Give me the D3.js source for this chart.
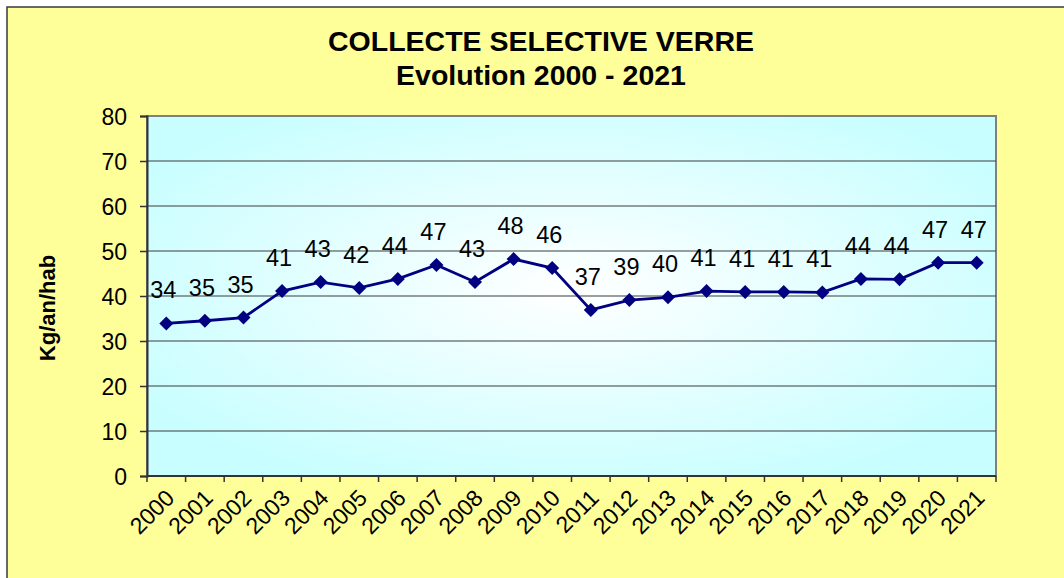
<!DOCTYPE html>
<html>
<head>
<meta charset="utf-8">
<script src="https://cdn.jsdelivr.net/npm/d3@7"></script>
<style>
  html, body { margin: 0; padding: 0; background: #fff; }
  svg { display: block; font-family: "Liberation Sans", Arial, sans-serif; }
</style>
</head>
<body>
<div id="chart"></div>
<script>
// data
var years = ["2000","2001","2002","2003","2004","2005","2006","2007","2008","2009","2010",
             "2011","2012","2013","2014","2015","2016","2017","2018","2019","2020","2021"];
var values = [33.9, 34.5, 35.2, 41.1, 43.1, 41.8, 43.8, 46.9, 43.1, 48.2, 46.2,
              36.9, 39.1, 39.7, 41.1, 40.9, 40.9, 40.8, 43.8, 43.7, 47.4, 47.4];
var yTicks = [0, 10, 20, 30, 40, 50, 60, 70, 80];
var titleLines = ["COLLECTE SELECTIVE VERRE", "Evolution 2000 - 2021"];
var yTitle = "Kg/an/hab";

var W = 1064, H = 578;
var plot = {left: 147, top: 116, right: 996, bottom: 476};

var svg = d3.select("#chart").append("svg")
    .attr("width", W)
    .attr("height", H);

// outer chart area (yellow)
svg.append("rect")
    .attr("x", 7).attr("y", 7)
    .attr("width", W).attr("height", H)
    .attr("fill", "#FFFF99")
    .attr("stroke", "#3a3a3a")
    .attr("stroke-width", 1.5);

// plot area gradient, white in the middle going cyan to the edges
var defs = svg.append("defs");
var grad = defs.append("radialGradient")
    .attr("id", "plotGrad")
    .attr("cx", "50%").attr("cy", "48%").attr("r", "60%");
grad.append("stop").attr("offset", "0%").attr("stop-color", "#FFFFFF");
grad.append("stop").attr("offset", "100%").attr("stop-color", "#C8FEFF");

svg.append("rect")
    .attr("x", plot.left).attr("y", plot.top)
    .attr("width", plot.right - plot.left)
    .attr("height", plot.bottom - plot.top)
    .attr("fill", "url(#plotGrad)")
    .attr("stroke", "#808080")
    .attr("stroke-width", 2);

var x = d3.scaleBand()
    .domain(years)
    .range([plot.left, plot.right]);

var y = d3.scaleLinear()
    .domain([0, 80])
    .range([plot.bottom, plot.top]);

// gridlines
svg.append("g")
  .selectAll("line")
  .data(yTicks.filter(function(d) { return d > 0 && d < 80; }))
  .join("line")
    .attr("x1", plot.left).attr("x2", plot.right)
    .attr("y1", function(d) { return y(d); })
    .attr("y2", function(d) { return y(d); })
    .attr("stroke", "#3c3c3c")
    .attr("stroke-width", 1.2);

// y axis
var yAxis = svg.append("g")
    .attr("transform", `translate(${plot.left},0)`)
    .call(d3.axisLeft(y).tickValues(yTicks).tickSize(7).tickPadding(13));
yAxis.select(".domain").attr("stroke", "#333").attr("stroke-width", 2);
yAxis.selectAll(".tick line").attr("stroke", "#333").attr("stroke-width", 1.5);
yAxis.selectAll(".tick text")
    .attr("fill", "#000")
    .style("font-size", "23px")
    .attr("dy", "0.36em");

// x axis: ticks between categories
var xAxis = svg.append("g")
    .attr("transform", `translate(0,${plot.bottom})`);
xAxis.append("line")
    .attr("x1", plot.left).attr("x2", plot.right)
    .attr("stroke", "#333").attr("stroke-width", 2);
xAxis.selectAll(".tk")
  .data(years.concat(["end"]))
  .join("line")
    .attr("class", "tk")
    .attr("x1", function(d, i) { return i < years.length ? x(d) : plot.right; })
    .attr("x2", function(d, i) { return i < years.length ? x(d) : plot.right; })
    .attr("y1", 0).attr("y2", 6)
    .attr("stroke", "#333").attr("stroke-width", 1.5);
xAxis.selectAll(".lbl")
  .data(years)
  .join("text")
    .attr("class", "lbl")
    .attr("transform", function(d) {
        return `translate(${x(d) + x.bandwidth() / 2 - 2},${12}) rotate(-45)`;
    })
    .attr("text-anchor", "end")
    .attr("dy", "0.7em")
    .style("font-size", "23px")
    .text(function(d) { return d; });

// the line
var line = d3.line()
    .x(function(d, i) { return x(years[i]) + x.bandwidth() / 2; })
    .y(function(d) { return y(d); });

svg.append("path")
    .datum(values)
    .attr("fill", "none")
    .attr("stroke", "#000080")
    .attr("stroke-width", 2.8)
    .attr("d", line);

// diamond markers
svg.append("g")
  .selectAll("path")
  .data(values)
  .join("path")
    .attr("transform", function(d, i) {
        return `translate(${x(years[i]) + x.bandwidth() / 2},${y(d)})`;
    })
    .attr("d", "M0,-7L7,0L0,7L-7,0Z")
    .attr("fill", "#000080");

// data labels
svg.append("g")
  .selectAll("text")
  .data(values)
  .join("text")
    .attr("x", function(d, i) { return x(years[i]) + x.bandwidth() / 2 - 3; })
    .attr("y", function(d) { return y(d) - 25; })
    .attr("text-anchor", "middle")
    .style("font-size", "23.5px")
    .attr("fill", "#000")
    .text(function(d) { return Math.round(d); });

// title
svg.append("g")
  .selectAll("text")
  .data(titleLines)
  .join("text")
    .attr("x", 541)
    .attr("y", function(d, i) { return 51 + i * 34; })
    .attr("text-anchor", "middle")
    .style("font-size", "28.5px")
    .style("font-weight", "bold")
    .text(function(d) { return d; });

// y axis title
svg.append("text")
    .attr("transform", "translate(55,308) rotate(-90)")
    .attr("text-anchor", "middle")
    .style("font-size", "22px")
    .style("font-weight", "bold")
    .text(yTitle);
</script>
</body>
</html>
